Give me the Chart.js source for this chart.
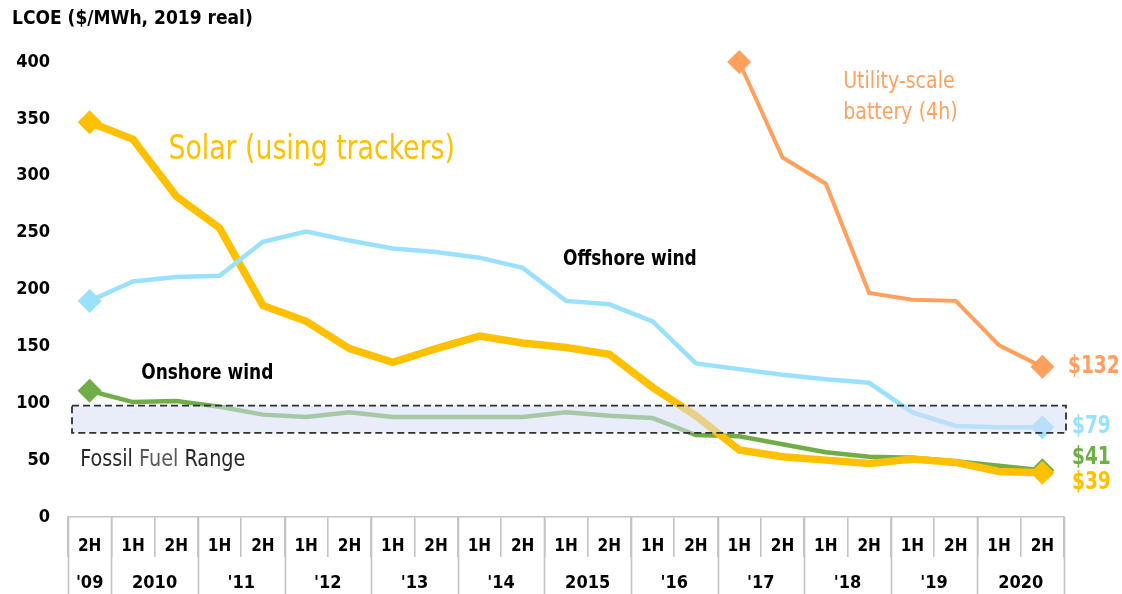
<!DOCTYPE html>
<html>
<head>
<meta charset="utf-8">
<script src="https://cdn.jsdelivr.net/npm/chart.js@4.4.1/dist/chart.umd.min.js"></script>
<style>
  html, body { margin: 0; padding: 0; background: #fff; }
  #wrap { width: 1122px; height: 594px; }
</style>
</head>
<body>
<div id="wrap"><canvas id="lcoeChart" width="1122" height="594"></canvas></div>
<script>
const FONT = "'DejaVu Sans Condensed', 'DejaVu Sans', sans-serif";

// half-year categories, 2H 2009 .. 2H 2020
const halfLabels = ['2H', '1H', '2H', '1H', '2H', '1H', '2H', '1H', '2H', '1H', '2H', '1H',
    '2H', '1H', '2H', '1H', '2H', '1H', '2H', '1H', '2H', '1H', '2H'];
const yearLabels = ["'09", '2010', "'11", "'12", "'13", "'14", '2015', "'16", "'17", "'18", "'19", '2020'];

// LCOE values ($/MWh, 2019 real)
const solar = [347, 332, 282, 254, 186, 172, 148, 136, 148, 159, 153, 149,
    143, 114, 89, 59, 53, 50, 47, 51, 48, 40, 39];
const offshore = [190, 207, 211, 212, 242, 251, 243, 236, 233, 228, 219, 190,
    187, 172, 135, 130, 125, 121, 118, 92, 80, 79, 79];
const onshore = [111, 101, 102, 97, 90, 88, 92, 88, 88, 88, 88, 92,
    89, 87, 72, 71, 64, 57, 53, 52, 49, 45, 41];
const battery = [null, null, null, null, null, null, null, null, null, null, null, null,
    null, null, null, 400, 316, 293, 197, 191, 190, 151, 132];

const fossilRange = [74, 98];

function endpoints(data, r) {
    const first = data.findIndex(v => v !== null);
    return data.map((v, i) => (i === first || i === data.length - 1) ? r : 0);
}

function lineSet(label, data, color, width, endDy) {
    return {
        label: label,
        data: data,
        borderColor: color,
        backgroundColor: color,
        borderWidth: width,
        pointStyle: 'rectRot',
        pointRadius: endpoints(data, 12),
        pointHoverRadius: endpoints(data, 12),
        pointBorderWidth: 0,
        tension: 0,
        clip: false,
        endDy: endDy
    };
}

// text notes anchored in data space: [text, category index, value, color, font, x-squeeze]
const notes = [
    ['Solar (using trackers)', 1.82, 322, '#FFC000', 'normal 33px ' + FONT, 0.9],
    ['Utility-scale', 17.4, 382, '#FFA05F', 'normal 23px ' + FONT, 0.92],
    ['battery (4h)', 17.4, 355, '#FFA05F', 'normal 23px ' + FONT, 0.92],
    ['Offshore wind', 10.93, 226, '#000000', 'bold 21px ' + FONT, 0.9],
    ['Onshore wind', 1.19, 126, '#000000', 'bold 21px ' + FONT, 0.9]
];

function squeezeText(ctx, text, px, py, sx) {
    ctx.save();
    ctx.translate(px, py);
    ctx.scale(sx, 1);
    ctx.fillText(text, 0, 0);
    ctx.restore();
    return ctx.measureText(text).width * sx;
}

const overlayPlugin = {
    id: 'overlay',
    afterDatasetsDraw(chart) {
        const ctx = chart.ctx;
        const x = chart.scales.x, y = chart.scales.y;
        const half = (x.getPixelForValue(1) - x.getPixelForValue(0)) / 2;

        // fossil fuel range band (drawn over the lines so they fade inside it)
        const left = x.getPixelForValue(0) - half + 4;
        const right = x.getPixelForValue(halfLabels.length - 1) + half + 2;
        const top = y.getPixelForValue(fossilRange[1]);
        const bottom = y.getPixelForValue(fossilRange[0]);
        ctx.save();
        ctx.fillStyle = 'rgba(214, 222, 244, 0.55)';
        ctx.fillRect(left, top, right - left, bottom - top);
        ctx.setLineDash([7, 4]);
        ctx.lineWidth = 1.8;
        ctx.strokeStyle = '#303030';
        ctx.strokeRect(left, top, right - left, bottom - top);
        ctx.restore();
    },
    afterDraw(chart) {
        const ctx = chart.ctx;
        const x = chart.scales.x, y = chart.scales.y;
        const area = chart.chartArea;
        const half = (x.getPixelForValue(1) - x.getPixelForValue(0)) / 2;

        ctx.save();
        ctx.textAlign = 'left';
        ctx.textBaseline = 'middle';

        // title
        ctx.fillStyle = '#000';
        ctx.font = 'bold 20px ' + FONT;
        squeezeText(ctx, 'LCOE ($/MWh, 2019 real)', 12, 19, 0.95);

        // annotations
        notes.forEach(n => {
            ctx.font = n[4];
            ctx.fillStyle = n[3];
            squeezeText(ctx, n[0], x.getPixelForValue(n[1]), y.getPixelForValue(n[2]), n[5]);
        });

        // fossil fuel range label
        ctx.font = 'normal 23px ' + FONT;
        let fx = x.getPixelForValue(-0.22);
        const fy = y.getPixelForValue(50);
        [['Fossil ', '#262626'], ['Fuel ', '#595959'], ['Range', '#262626']].forEach(p => {
            ctx.fillStyle = p[1];
            fx += squeezeText(ctx, p[0], fx, fy, 0.93);
        });

        // end-of-line value labels
        ctx.font = 'bold 24px ' + FONT;
        chart.data.datasets.forEach((ds, i) => {
            const meta = chart.getDatasetMeta(i);
            const last = meta.data[meta.data.length - 1];
            const v = ds.data[ds.data.length - 1];
            ctx.fillStyle = ds.borderColor;
            squeezeText(ctx, '$' + v, area.right + (v >= 100 ? 4 : 8), last.y + ds.endDy, 0.86);
        });

        // year row of the category table
        const axisTop = x.top;
        const tableBottom = chart.height;
        ctx.strokeStyle = '#C4C4C4';
        ctx.lineWidth = 1.6;
        const bounds = [0];
        for (let i = 1; i < halfLabels.length; i += 2) bounds.push(i);
        bounds.push(halfLabels.length);
        bounds.forEach(b => {
            const px = Math.round(x.getPixelForValue(b) - half) + 0.5;
            ctx.beginPath();
            ctx.moveTo(px, axisTop);
            ctx.lineTo(px, tableBottom);
            ctx.stroke();
        });
        ctx.fillStyle = '#000';
        ctx.font = 'bold 18px ' + FONT;
        ctx.textAlign = 'center';
        yearLabels.forEach((lab, k) => {
            const c = k === 0 ? 0 : 2 * k - 0.5;
            ctx.fillText(lab, x.getPixelForValue(c), axisTop + 66);
        });
        ctx.restore();
    }
};

new Chart(document.getElementById('lcoeChart'), {
    type: 'line',
    data: {
        labels: halfLabels,
        datasets: [
            lineSet('Utility-scale battery (4h)', battery, '#FFA05F', 4, 0),
            lineSet('Offshore wind', offshore, '#99E1FF', 4.5, 0),
            lineSet('Solar (using trackers)', solar, '#FFC000', 7.5, 10),
            lineSet('Onshore wind', onshore, '#70AD47', 4.5, -13)
        ]
    },
    options: {
        responsive: false,
        animation: false,
        layout: { padding: { top: 62, right: 58, left: 0, bottom: 0 } },
        plugins: {
            legend: { display: false },
            tooltip: { enabled: false }
        },
        scales: {
            x: {
                offset: true,
                afterFit(scale) { scale.height = 77; },
                grid: {
                    offset: true,
                    drawOnChartArea: false,
                    tickLength: 40,
                    color: '#C4C4C4',
                    lineWidth: 1.6
                },
                border: { display: true, color: '#C4C4C4', width: 1.6 },
                ticks: {
                    autoSkip: false,
                    maxRotation: 0,
                    padding: -21,
                    color: '#000',
                    font: { family: FONT, size: 17, weight: 'bold' }
                }
            },
            y: {
                min: 0,
                max: 400,
                afterFit(scale) { scale.width = 68; },
                grid: { display: false, drawTicks: false },
                border: { display: false },
                ticks: {
                    stepSize: 50,
                    padding: 18,
                    color: '#000',
                    font: { family: FONT, size: 18, weight: 'bold' }
                }
            }
        }
    },
    plugins: [overlayPlugin]
});
</script>
</body>
</html>
